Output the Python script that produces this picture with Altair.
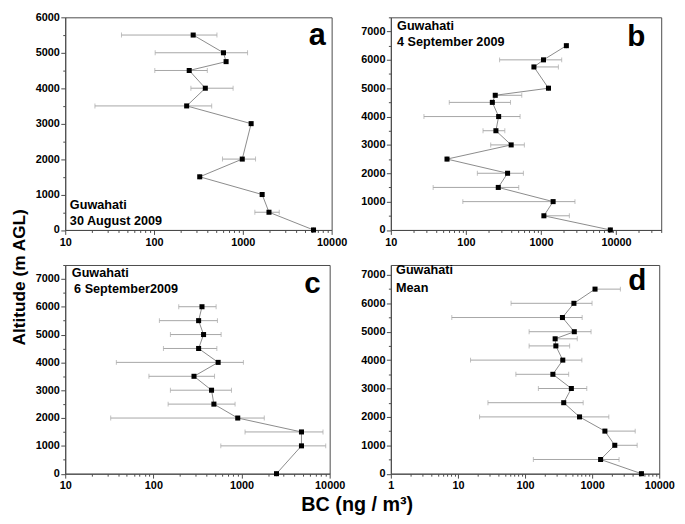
import altair as alt
import pandas as pd

# ---------------- data ----------------
# panel a : Guwahati 30 August 2009
a_alt = [0, 500, 1000, 1500, 2000, 3000, 3500, 4000, 4500, 4750, 5000, 5500]
a_bc = [6250, 1970, 1650, 327, 985, 1240, 233, 378, 249, 648, 605, 276]
a_lo = [6250, 1365, 1650, 327, 590, 1240, 21.6, 260, 102, 648, 103, 43]
a_hi = [6250, 2570, 1650, 327, 1390, 1240, 446, 777, 398, 648, 1130, 511]

# panel b : Guwahati 4 September 2009
b_alt = [0, 500, 1000, 1500, 2000, 2500, 3000, 3500, 4000, 4500, 4750, 5000, 5750, 6000, 6500]
b_bc = [8400, 1094, 1452, 270, 359, 56, 401, 251, 273, 225, 246, 1259, 806, 1081, 2180]
b_lo = [8400, 1094, 91, 36.6, 142, 56, 214, 169, 27.6, 60, 246, 1259, 806, 281, 2180]
b_hi = [8400, 2389, 2838, 506, 583, 56, 601, 330, 527, 393, 555, 1259, 1706, 1889, 2180]

# panel c : Guwahati 6 September 2009
c_alt = [0, 1000, 1500, 2000, 2500, 3000, 3500, 4000, 4500, 5000, 5500, 6000]
c_bc = [2494, 4786, 4786, 906, 486, 457, 289, 543, 326, 371, 326, 356]
c_lo = [2494, 582, 1096, 32.8, 147, 156, 89, 38, 130, 156, 117, 194]
c_hi = [2494, 9020, 8400, 1812, 845, 769, 494, 1050, 525, 587, 533, 515]

# panel d : Guwahati mean
d_alt = [0, 500, 1000, 1500, 2000, 2500, 3000, 3500, 4000, 4500, 4750, 5000, 5500, 6000, 6500]
d_bc = [5430, 1337, 2174, 1549, 649, 377, 490, 260, 365, 288, 281, 542, 361, 535, 1104]
d_lo = [5430, 133, 2174, 1549, 21, 28, 158, 73, 15.4, 115, 281, 115, 8.1, 61.9, 1104]
d_hi = [5430, 2520, 4690, 4385, 1774, 735, 832, 447, 703, 462, 600, 964, 710, 997, 2636]

FONT = "Liberation Sans"
LINE_C = "#8a8a8a"
ERR_C = "#a6a6a6"
FRAME_C = "#4a4a4a"


def txt(s, x, y, size, align="left", baseline="middle"):
    return alt.Chart(pd.DataFrame({"t": [s]})).mark_text(
        font=FONT, fontWeight="bold", fontSize=size, color="black",
        align=align, baseline=baseline
    ).encode(text="t:N", x=alt.value(x), y=alt.value(y))


def panel(alts, bc, lo, hi, xdom, ydom, w, h, texts, ytitle=None):
    df = pd.DataFrame({"alt": alts, "bc": bc, "lo": lo, "hi": hi})
    xvals = [m * 10 ** k for k in range(0, 5) for m in range(1, 10)
             if xdom[0] <= m * 10 ** k <= xdom[1]]
    yvals = list(range(0, int(ydom[1]) + 1, 500))
    maj = "indexof([1,10,100,1000,10000], datum.value) >= 0"
    xaxis = alt.Axis(values=xvals, format="d", title=None, grid=False,
                     labelExpr=f"{maj} ? datum.label : ''",
                     tickSize={"condition": {"test": maj, "value": 4.5}, "value": 2.5},
                     labelOverlap=False, labelFlush=False, labelPadding=2)
    yargs = dict(values=yvals, format="d", grid=False,
                 labelExpr="datum.value % 1000 == 0 ? datum.label : ''",
                 tickSize={"condition": {"test": "datum.value % 1000 == 0", "value": 4.5},
                           "value": 2.5},
                 labelOverlap=False, labelFlush=False, labelPadding=1.5)
    if ytitle:
        yargs.update(title=ytitle, titleFont=FONT, titleFontWeight="bold",
                     titleFontSize=17.5, titleColor="black", titleY=12,
                     titlePadding=7)
    else:
        yargs.update(title=None)
    yaxis = alt.Axis(**yargs)
    xs = alt.Scale(type="log", domain=xdom, nice=False)
    ys = alt.Scale(domain=ydom, nice=False, zero=False)

    def X(f):
        return alt.X(f, type="quantitative", scale=xs, axis=xaxis)

    Y = alt.Y("alt", type="quantitative", scale=ys, axis=yaxis)
    base = alt.Chart(df)
    err = base.mark_rule(color=ERR_C, strokeWidth=1).encode(x=X("lo"), x2="hi", y=Y)
    cap_l = base.mark_tick(color=ERR_C, orient="vertical", size=5, thickness=1).encode(x=X("lo"), y=Y)
    cap_r = base.mark_tick(color=ERR_C, orient="vertical", size=5, thickness=1).encode(x=X("hi"), y=Y)
    line = base.mark_line(color=LINE_C, strokeWidth=1).encode(x=X("bc"), y=Y, order=alt.Order("alt:Q"))
    pts = base.mark_square(color="black", size=26, opacity=1).encode(x=X("bc"), y=Y)
    layers = [err, cap_l, cap_r, line, pts] + [txt(*t) for t in texts]
    return alt.layer(*layers).properties(width=w, height=h)


pa = panel(a_alt, a_bc, a_lo, a_hi, [10, 10000], [0, 6000], 270, 215.5, [
    ("Guwahati", 4.7, 190.2, 12.8),
    ("30 August 2009", 4.7, 206.5, 12.8),
    ("a", 264, 28.5, 31, "right", "alphabetic"),
])
pb = panel(b_alt, b_bc, b_lo, b_hi, [10, 40000], [0, 7500], 274, 215.5, [
    ("Guwahati", 6.3, 8.5, 12.8),
    ("4 September 2009", 6.3, 25.5, 12.8),
    ("b", 258, 29, 30, "right", "alphabetic"),
])
pc = panel(c_alt, c_bc, c_lo, c_hi, [10, 10000], [0, 7500], 268, 211.5, [
    ("Guwahati", 6.7, 8, 12.8),
    ("6 September2009", 9, 24, 12.8),
    ("c", 259, 28, 30, "right", "alphabetic"),
], ytitle="Altitude (m AGL)")
pd_ = panel(d_alt, d_bc, d_lo, d_hi, [1, 10000], [0, 7350], 272, 211.5, [
    ("Guwahati", 5.3, 5.5, 12.8),
    ("Mean", 5.3, 23.7, 12.8),
    ("d", 259, 25, 30, "right", "alphabetic"),
])

chart = alt.concat(pa, pb, pc, pd_, columns=2, spacing={"row": 35, "column": 60},
                   bounds="flush").properties(
    padding={"left": 2, "top": -1, "right": 2, "bottom": 2},
    title=alt.TitleParams("BC (ng / m³)", orient="bottom", anchor="middle",
                          font=FONT, fontWeight="bold", fontSize=20,
                          color="black", offset=4, dx=15),
).configure_axis(
    labelFont=FONT, labelFontWeight="bold", labelFontSize=11, labelColor="black",
    domainColor=FRAME_C, tickColor=FRAME_C, domainWidth=1, tickWidth=1,
).configure_view(stroke=FRAME_C, strokeWidth=1)

chart.save("out.html", embed_options={"renderer": "svg", "actions": False})
